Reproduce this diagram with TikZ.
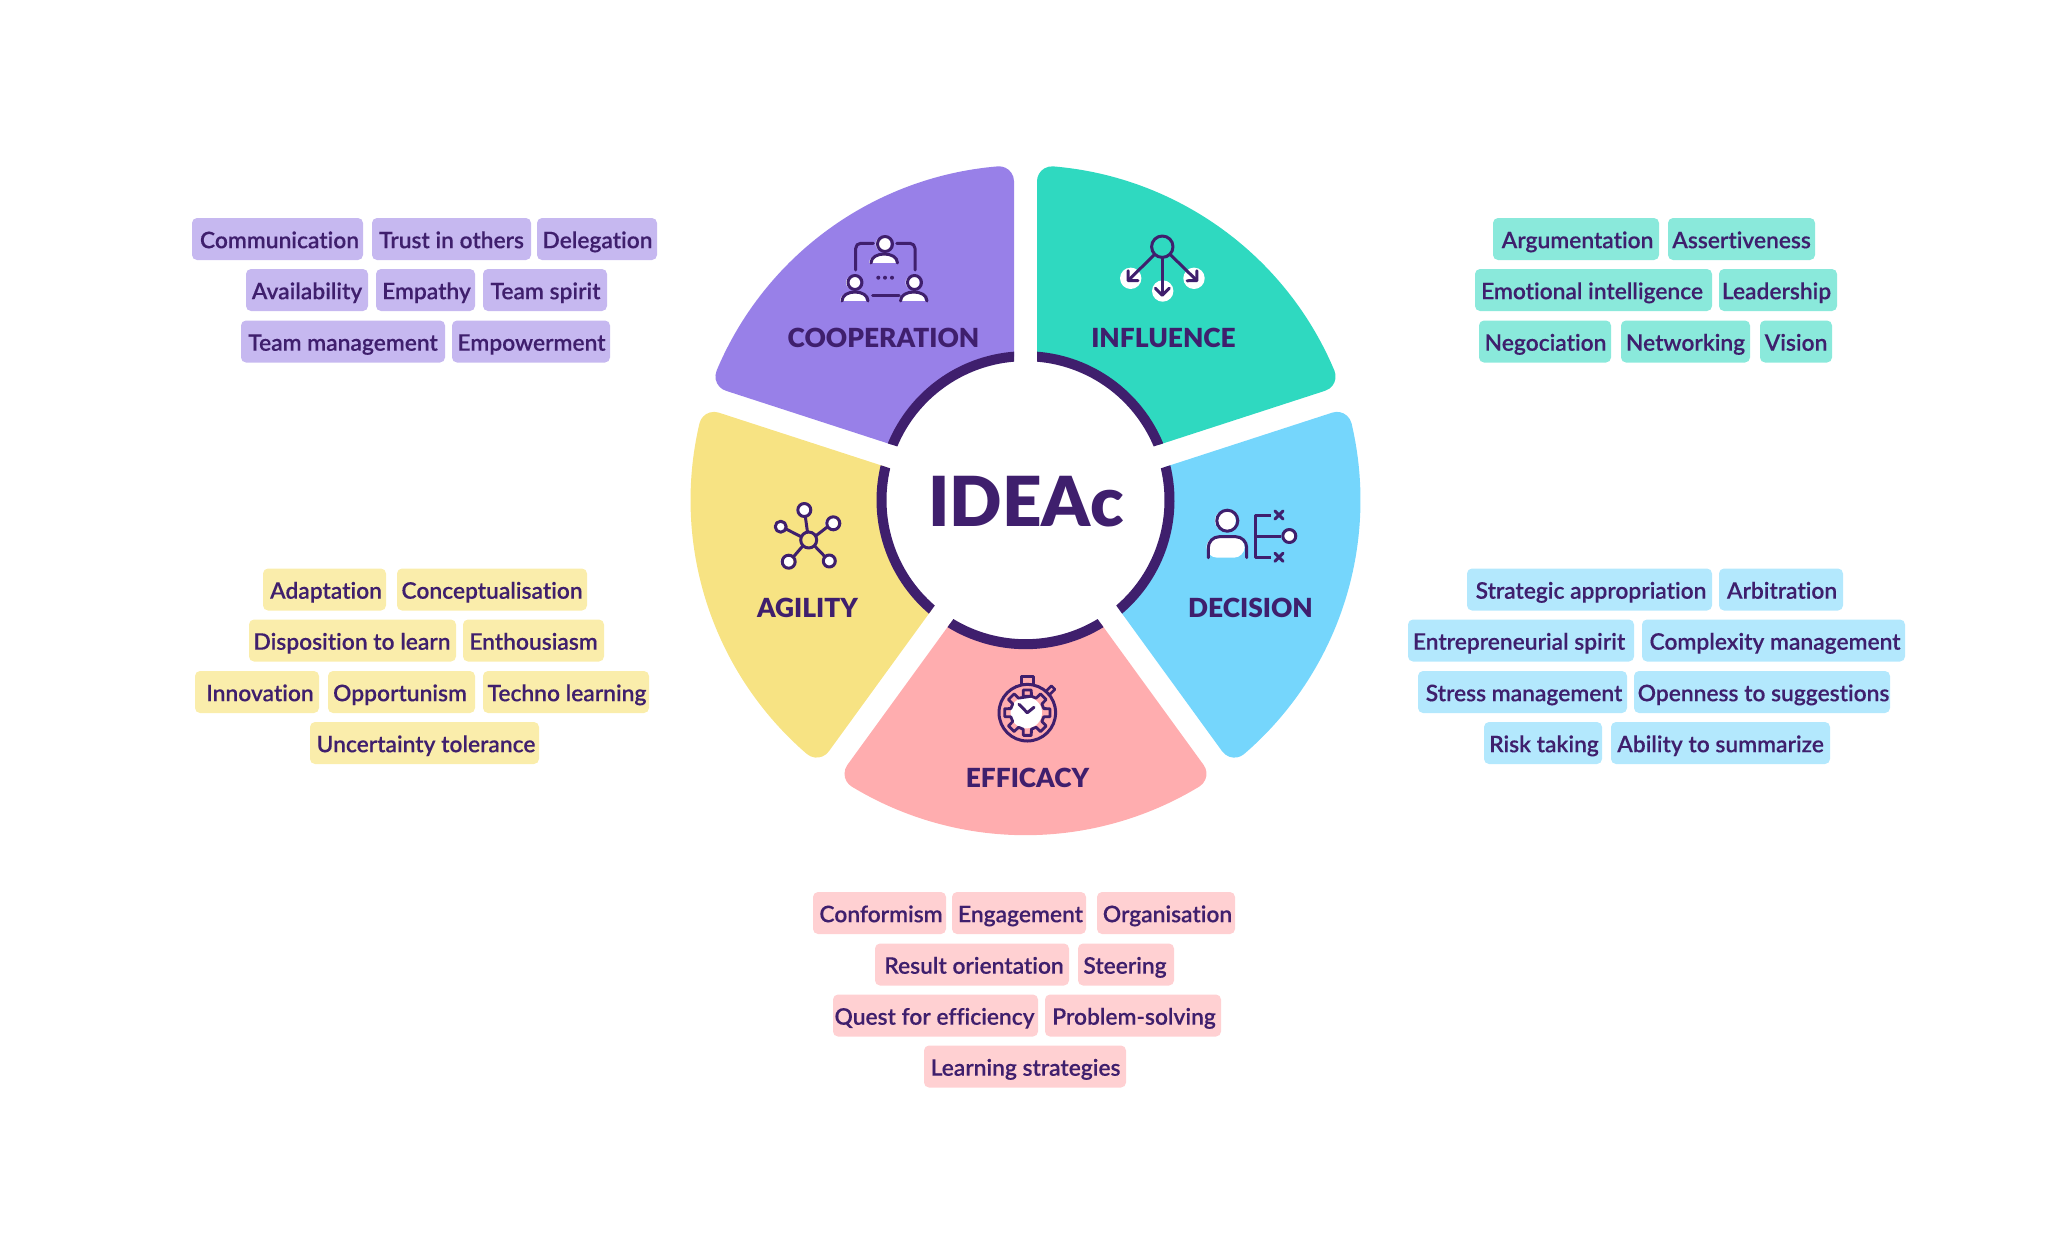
\documentclass[tikz,border=0pt]{standalone}
\usepackage{fontspec}
\usetikzlibrary{arrows.meta}
\setmainfont{Lato}
\newfontfamily\tagfont{Lato Semibold}[Ligatures=NoCommon,FakeBold=0.2]
\newfontfamily\headfont{Lato Black}[Ligatures=NoCommon]
\definecolor{ink}{HTML}{3F1F6D}
\definecolor{cPur}{HTML}{9880E8}
\definecolor{cTea}{HTML}{2FD9C0}
\definecolor{cYel}{HTML}{F7E383}
\definecolor{cBlu}{HTML}{75D6FC}
\definecolor{cPin}{HTML}{FFADAF}
\definecolor{tPur}{HTML}{C6B8F0}
\definecolor{tTea}{HTML}{8AE9DB}
\definecolor{tYel}{HTML}{FAEDAB}
\definecolor{tBlu}{HTML}{B3E8FD}
\definecolor{tPin}{HTML}{FFD0D2}
\pgfmathsetmacro{\Rout}{335}
\pgfmathsetmacro{\Rfil}{15}
\pgfmathsetmacro{\Gap}{11.5}
\pgfmathsetmacro{\Rin}{144}
\pgfmathsetmacro{\Rro}{149}
\pgfmathsetmacro{\Rri}{139}
\pgfmathsetmacro{\dl}{asin((\Rfil+\Gap)/(\Rout-\Rfil))}
\pgfmathsetmacro{\ph}{36-\dl}
\pgfmathsetmacro{\tD}{(\Rout-\Rfil)*cos(\dl)}
\pgfmathsetmacro{\tp}{veclen(\tD,\Gap)}
\pgfmathsetmacro{\af}{asin(\Gap/\tp)}
\pgfmathsetmacro{\ai}{asin(\Gap/\Rin)}
\pgfmathsetmacro{\ao}{asin(\Gap/\Rro)}
\pgfmathsetmacro{\aj}{asin(\Gap/\Rri)}
\newcommand\wheelpart[2]{%
  \fill[#2] ({#1+36-\ai}:\Rin) -- ({#1+36-\af}:\tp)
    arc[start angle={#1+126},end angle={#1+\ph},radius=\Rfil]
    arc[start angle={#1+\ph},end angle={#1-\ph},radius=\Rout]
    arc[start angle={#1-\ph},end angle={#1-126},radius=\Rfil]
    -- ({#1-36+\ai}:\Rin)
    arc[start angle={#1-36+\ai},end angle={#1+36-\ai},radius=\Rin] -- cycle;
  \fill[ink] ({#1+36-\ao}:\Rro)
    arc[start angle={#1+36-\ao},end angle={#1-36+\ao},radius=\Rro]
    -- ({#1-36+\aj}:\Rri)
    arc[start angle={#1-36+\aj},end angle={#1+36-\aj},radius=\Rri] -- cycle;
}
\newcommand\tagn[7]{%
  \node[tagbase,#7,minimum width={(#3-#2)*1pt}] (#1) at ({(#2+#3)/2},-#4) {\hspace*{#5pt}#6};}
\newcommand\iconperson[6]{% head x,y,r ; body x1,x2,bottom
  \fill[white] ({#1-2},-#2) circle[radius=#3];
  \fill[white] ({#4-2},-#6) .. controls ({#4-2},{-#6+12}) and ({#5-2},{-#6+12}) .. ({#5-2},-#6) -- cycle;
  \draw[icon] (#1,-#2) circle[radius=#3];
  \draw[icon] (#4,-#6) .. controls (#4,{-#6+12}) and (#5,{-#6+12}) .. (#5,-#6);}
\tikzset{
  tagbase/.style={inner sep=0pt,minimum height=42pt,rounded corners=5pt,text=ink,
    font=\tagfont\fontsize{22.8}{22.8}\selectfont,text height=18.4pt,text depth=0pt},
  tagP/.style={fill=tPur}, tagT/.style={fill=tTea}, tagY/.style={fill=tYel},
  tagB/.style={fill=tBlu}, tagR/.style={fill=tPin},
  head/.style={anchor=base,text=ink,font=\headfont\fontsize{26.3}{26.3}\selectfont},
  icon/.style={draw=ink,line width=3pt,line cap=round,line join=round},
}
\begin{document}
\begin{tikzpicture}[x=1pt,y=1pt]
\path[use as bounding box] (0,0) rectangle (2051,-1251);
\begin{scope}[shift={(1025.5,-500.2)}]
\wheelpart{126}{cPur}
\wheelpart{54}{cTea}
\wheelpart{-18}{cBlu}
\wheelpart{-90}{cPin}
\wheelpart{198}{cYel}
\end{scope}
\node[anchor=base,text=ink,font=\headfont\fontsize{69}{69}\selectfont] (ideac) at (1026,-526) {IDEAc};
\node[head] (hCoop) at (883.5,-347) {COOPERATION};
\node[head] (hInfl) at (1163.5,-347) {INFLUENCE};
\node[head] (hAgil) at (807.5,-617) {AGILITY};
\node[head] (hDeci) at (1250.5,-617) {DECISION};
\node[head] (hEffi) at (1027.5,-787) {EFFICACY};
% purple
\tagn{p1}{192}{363}{239}{4}{Communication}{tagP}
\tagn{p2}{372}{531}{239}{0}{Trust in others}{tagP}
\tagn{p3}{537}{657}{239}{1}{Delegation}{tagP}
\tagn{p4}{246}{368}{290}{0}{Availability}{tagP}
\tagn{p5}{376}{475}{290}{2}{Empathy}{tagP}
\tagn{p6}{483}{607}{290}{1}{Team spirit}{tagP}
\tagn{p7}{241}{445}{341.5}{0}{Team management}{tagP}
\tagn{p8}{452}{610}{341.5}{1}{Empowerment}{tagP}
% teal
\tagn{t1}{1493}{1659}{239}{3}{Argumentation}{tagT}
\tagn{t2}{1668}{1815}{239}{0}{Assertiveness}{tagT}
\tagn{t3}{1475}{1712}{290}{-3}{Emotional intelligence}{tagT}
\tagn{t4}{1719}{1837}{290}{-3}{Leadership}{tagT}
\tagn{t5}{1479}{1611}{341.5}{1}{Negociation}{tagT}
\tagn{t6}{1621}{1750}{341.5}{0}{Networking}{tagT}
\tagn{t7}{1760}{1832}{341.5}{0}{Vision}{tagT}
% blue
\tagn{b1}{1467}{1712}{589.5}{3}{Strategic appropriation}{tagB}
\tagn{b2}{1719}{1843}{589.5}{2}{Arbitration}{tagB}
\tagn{b3}{1408}{1634}{640.5}{-4}{Entrepreneurial spirit}{tagB}
\tagn{b4}{1642}{1905}{640.5}{3}{Complexity management}{tagB}
\tagn{b5}{1418}{1627}{692}{3}{Stress management}{tagB}
\tagn{b6}{1634}{1890}{692}{3}{Openness to suggestions}{tagB}
\tagn{b7}{1484}{1602}{743}{2}{Risk taking}{tagB}
\tagn{b8}{1611}{1830}{743}{0}{Ability to summarize}{tagB}
% yellow
\tagn{y1}{263}{386}{589.5}{3}{Adaptation}{tagY}
\tagn{y2}{397}{587}{589.5}{0}{Conceptualisation}{tagY}
\tagn{y3}{249}{456}{640.5}{-1}{Disposition to learn}{tagY}
\tagn{y4}{463}{604}{640.5}{0}{Enthousiasm}{tagY}
\tagn{y5}{195}{319}{692}{6}{Innovation}{tagY}
\tagn{y6}{328}{475}{692}{-3}{Opportunism}{tagY}
\tagn{y7}{483}{649}{692}{2}{Techno learning}{tagY}
\tagn{y8}{310}{539}{743}{3}{Uncertainty tolerance}{tagY}
% pink
\tagn{r1}{813}{946}{913}{3}{Conformism}{tagR}
\tagn{r2}{952}{1086}{913}{3}{Engagement}{tagR}
\tagn{r3}{1097}{1235}{913}{3}{Organisation}{tagR}
\tagn{r4}{875}{1069}{964.5}{4}{Result orientation}{tagR}
\tagn{r5}{1078}{1174}{964.5}{-2}{Steering}{tagR}
\tagn{r6}{833}{1038}{1015.5}{-2}{Quest for efficiency}{tagR}
\tagn{r7}{1045}{1221}{1015.5}{2}{Problem-solving}{tagR}
\tagn{r8}{924}{1126}{1066.5}{1}{Learning strategies}{tagR}
% cooperation icon
\iconperson{885}{244}{7.5}{871}{897.5}{263}
\iconperson{855}{282.5}{7}{842}{868}{301}
\iconperson{914.5}{282.5}{7}{900.5}{927}{301}
\draw[icon,rounded corners=5pt] (855.7,-270) -- (855.7,-243.3) -- (873.3,-243.3);
\draw[icon,rounded corners=5pt] (896.7,-243.3) -- (915,-243.3) -- (915,-270);
\draw[icon] (872.7,-295) -- (899,-295);
\fill[ink] (878.3,-277.7) circle[radius=2] (885,-277.7) circle[radius=2] (892,-277.7) circle[radius=2];
% influence icon
\fill[white] (1130.7,-278.3) circle[radius=10.7] (1162.7,-291) circle[radius=10.7] (1194,-278.3) circle[radius=10.7];
\draw[icon] (1162.3,-246.7) circle[radius=10.7];
\draw[icon,-{Straight Barb[length=7pt,width=14pt,round]}] (1154.7,-254.3) -- (1127,-281.7);
\draw[icon,-{Straight Barb[length=7pt,width=14pt,round]}] (1162.3,-257.4) -- (1162.3,-296.7);
\draw[icon,-{Straight Barb[length=7pt,width=14pt,round]}] (1170,-254.3) -- (1198,-281.7);
% agility icon
\fill[white] (802.8,-510) circle[radius=6.5] (831.3,-523.3) circle[radius=6.5] (779.2,-526.7) circle[radius=5.5] (786.7,-561.7) circle[radius=6.5] (827.8,-561) circle[radius=6];
\draw[icon] (808.7,-540) circle[radius=8];
\draw[icon] (804.3,-510) circle[radius=6.5] (833.3,-523.3) circle[radius=6.5] (780.7,-526.7) circle[radius=5.5] (788.7,-561.7) circle[radius=6.5] (829.3,-561) circle[radius=6];
\draw[icon] (807.5,-532) -- (805.3,-516.5);
\draw[icon] (815.6,-536) -- (827.5,-526.8);
\draw[icon] (801.3,-536.8) -- (786,-529);
\draw[icon] (803,-545.7) -- (793.3,-557);
\draw[icon] (814.4,-545.7) -- (825,-556.7);
% decision icon
\fill[white] (1225.3,-520.7) circle[radius=10.5];
\fill[white,rounded corners=11pt] (1206.3,-557.7) -- (1206.3,-536.7) -- (1244.7,-536.7) -- (1244.7,-557.7) -- cycle;
\draw[icon] (1227.3,-520.7) circle[radius=10.5];
\draw[icon,rounded corners=11pt] (1208.3,-557.7) -- (1208.3,-536.7) -- (1246.7,-536.7) -- (1246.7,-557.7);
\draw[icon,line cap=butt] (1270.7,-515) -- (1255,-515) -- (1255,-557.3) -- (1270.7,-557.3);
\draw[icon,line cap=butt] (1255,-536) -- (1281,-536);
\fill[white] (1288.3,-536) circle[radius=6.5];
\draw[icon] (1289.3,-536) circle[radius=6.5];
\draw[icon] (1275,-511) -- (1283,-519) (1275,-519) -- (1283,-511);
\draw[icon] (1275,-553.3) -- (1283,-561.3) (1275,-561.3) -- (1283,-553.3);
% efficacy icon
\draw[icon,line width=3pt] (1021.7,-684) -- (1021.7,-676) -- (1033.3,-676) -- (1033.3,-684);
\fill[white] (1026.3,-712.7) circle[radius=15.7];
\draw[icon,line width=3pt] (1027.3,-712.7) circle[radius=28.3];
\draw[icon,line width=2.6pt,rotate around={45:(1050,-690)}] (1046,-693) rectangle (1054,-688);
\begin{scope}[shift={(1027.3,-712.7)}]
\draw[icon,line width=2.8pt] (76:17)
 \foreach \a in {90,45,0,-45,-90,-135,-180,-225}{
   -- ({\a+14}:17) -- ({\a+10}:23) -- ({\a-10}:23) -- ({\a-14}:17)
 } -- cycle;
\end{scope}
\draw[icon] (1019,-704.3) -- (1027.3,-712.7) -- (1034,-707.3);
\end{tikzpicture}
\end{document}
